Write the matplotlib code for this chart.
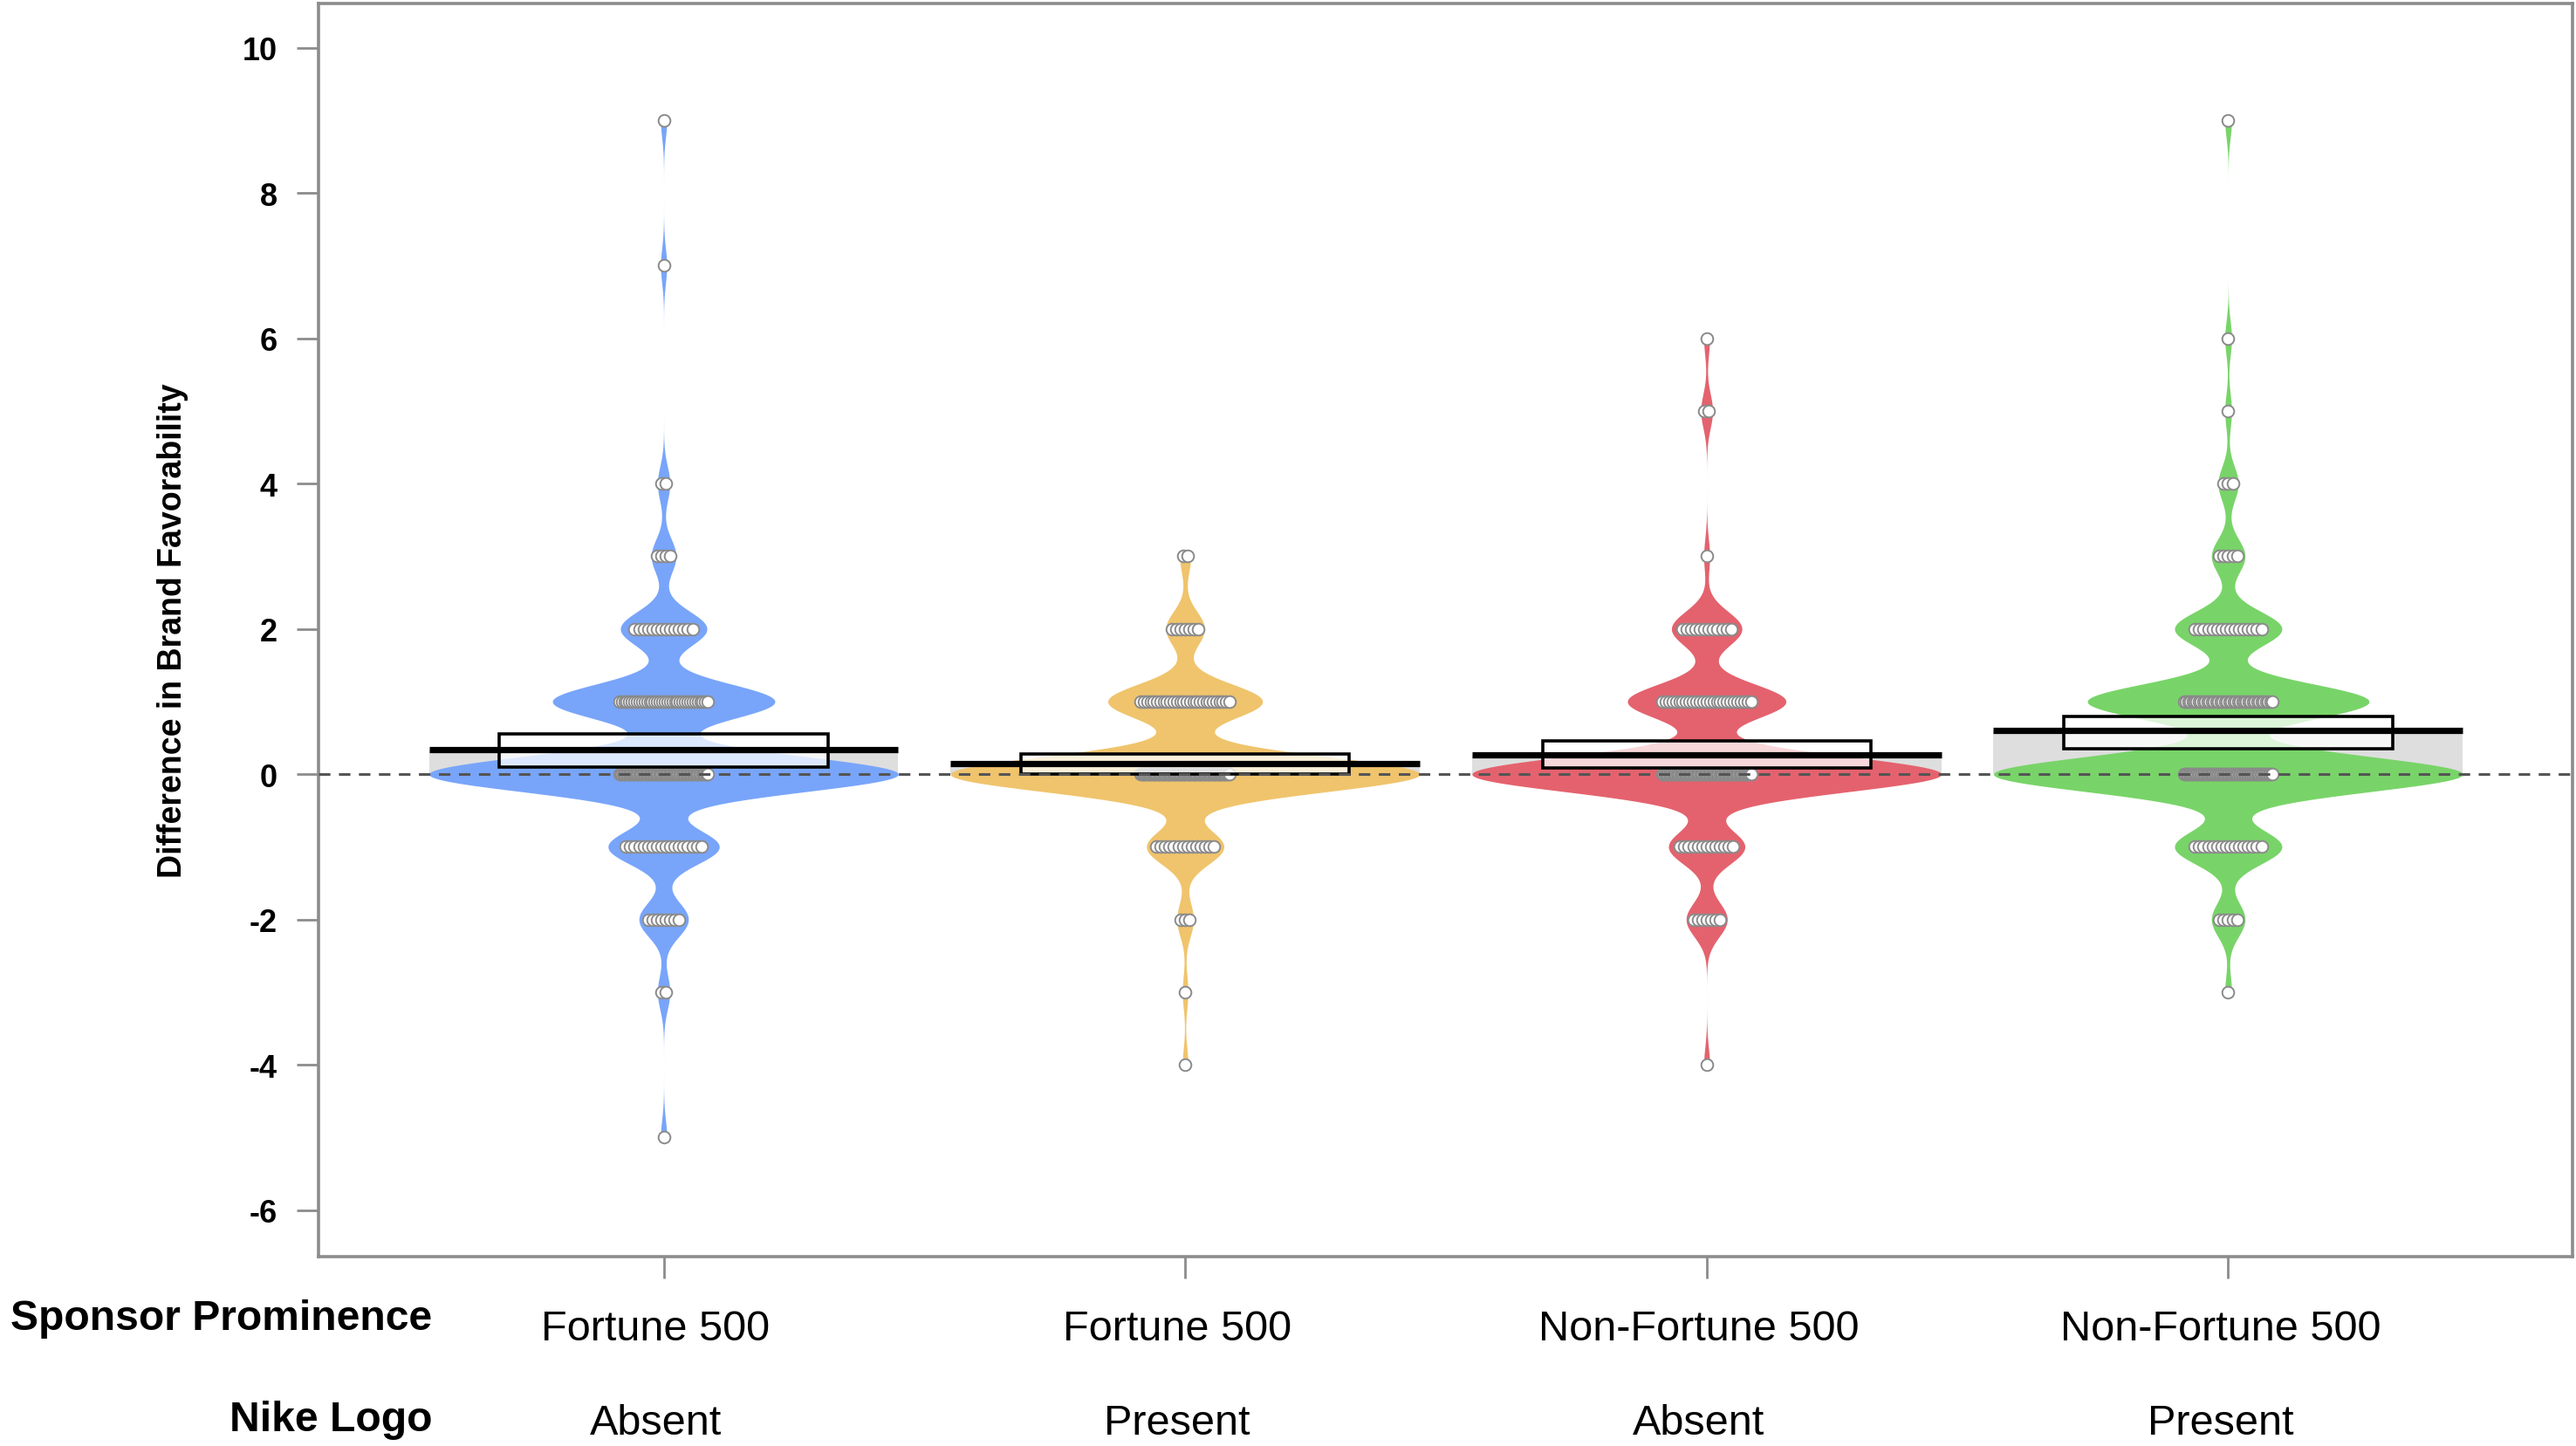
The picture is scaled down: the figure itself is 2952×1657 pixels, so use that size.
import numpy as np
import matplotlib.pyplot as plt
from matplotlib.transforms import blended_transform_factory

# condition labels
sponsor = ["Fortune 500", "Fortune 500", "Non-Fortune 500", "Non-Fortune 500"]
nike_logo = ["Absent", "Present", "Absent", "Present"]
bean_colors = ["#78a5fa", "#f0c46c", "#e4626e", "#78d468"]

scores_f500_absent = [-5, -3, -2, -1, 0, 1, 2, 3, 4, 7, 9]
counts_f500_absent = [1, 2, 8, 18, 76, 36, 14, 4, 2, 1, 1]
scores_f500_present = [-4, -3, -2, -1, 0, 1, 2, 3]
counts_f500_present = [1, 1, 3, 14, 85, 28, 7, 2]
scores_nonf500_absent = [-4, -2, -1, 0, 1, 2, 3, 5, 6]
counts_nonf500_absent = [1, 7, 13, 80, 27, 12, 1, 2, 1]
scores_nonf500_present = [-3, -2, -1, 0, 1, 2, 3, 4, 5, 6, 9]
counts_nonf500_present = [1, 5, 16, 70, 42, 16, 5, 3, 1, 1, 1]

# group means and inference band
means = [0.34, 0.14, 0.27, 0.60]
inf_low = [0.10, 0.00, 0.09, 0.35]
inf_high = [0.55, 0.28, 0.46, 0.79]

all_scores = [scores_f500_absent, scores_f500_present, scores_nonf500_absent, scores_nonf500_present]
all_counts = [counts_f500_absent, counts_f500_present, counts_nonf500_absent, counts_nonf500_present]

plt.rcParams['font.family'] = ["Liberation Sans", "DejaVu Sans"]

fig = plt.figure(figsize=(14.76, 8.29), dpi=200)
ax = fig.add_axes([0.1236, 0.131, 0.875, 0.866])

bw = 0.24
half_w = 0.45
for i in range(4):
    x0 = i + 1
    sc = np.array(all_scores[i], dtype=float)
    ct = np.array(all_counts[i], dtype=float)

    # bar from 0 to mean (behind everything)
    ax.fill_between([x0 - half_w, x0 + half_w], 0, means[i], color="#dedede", lw=0, zorder=1)

    # bean = gaussian kde, trimmed to the data range
    yy = np.linspace(sc.min(), sc.max(), 800)
    dens = (ct[None, :] * np.exp(-0.5 * ((yy[:, None] - sc[None, :]) / bw) ** 2)).sum(axis=1)
    dens = dens / dens.max() * half_w
    ax.fill_betweenx(yy, x0 - dens, x0 + dens, color=bean_colors[i], lw=0, zorder=2)

    # raw points, spread sideways
    for v, n in zip(sc, ct.astype(int)):
        j = 0.085 * min(1.0, (n - 1) / 20.0)
        xs = x0 + np.linspace(-j, j, n)
        ax.scatter(xs, np.full(n, v), s=24, facecolors="white",
                   edgecolors="#8a8a8a", linewidths=0.7, zorder=3)

    # inference band
    ax.add_patch(plt.Rectangle((x0 - 0.315, inf_low[i]), 0.63, inf_high[i] - inf_low[i],
                               facecolor=(1, 1, 1, 0.75), edgecolor="black", lw=1.3, zorder=4))
    # mean line
    ax.plot([x0 - half_w, x0 + half_w], [means[i], means[i]], color="black", lw=2.6,
            solid_capstyle="butt", zorder=6)

ax.axhline(0, color="#555555", lw=1.1, dashes=(4.3, 3.2), zorder=5)

ax.set_xlim(0.338, 4.66)
ax.set_ylim(-6.64, 10.61)
ax.set_yticks(range(-6, 11, 2))
ax.set_yticklabels([str(t) for t in range(-6, 11, 2)], fontsize=13, fontweight="bold")
ax.set_xticks([1, 2, 3, 4])
ax.set_xticklabels([])
ax.tick_params(axis="both", length=9, width=1, color="#8c8c8c", pad=8)
for s in ax.spines.values():
    s.set_color("#8c8c8c")
    s.set_linewidth(1.3)

ax.set_ylabel("Difference in Brand Favorability", fontsize=13.5, fontweight="bold", labelpad=22)

tr = blended_transform_factory(ax.transData, fig.transFigure)
for i in range(4):
    ax.text(i + 1 - 0.015, 0.081, sponsor[i], transform=tr, ha="center", va="center",
            fontsize=17.5)
    ax.text(i + 1 - 0.015, 0.016, nike_logo[i], transform=tr, ha="center", va="center",
            fontsize=17.5)
fig.text(0.1677, 0.0885, "Sponsor Prominence", ha="right", va="center", fontsize=17.3,
         fontweight="bold")
fig.text(0.1677, 0.0185, "Nike Logo", ha="right", va="center", fontsize=17.3,
         fontweight="bold")

fig.savefig("out.png", dpi=200)
